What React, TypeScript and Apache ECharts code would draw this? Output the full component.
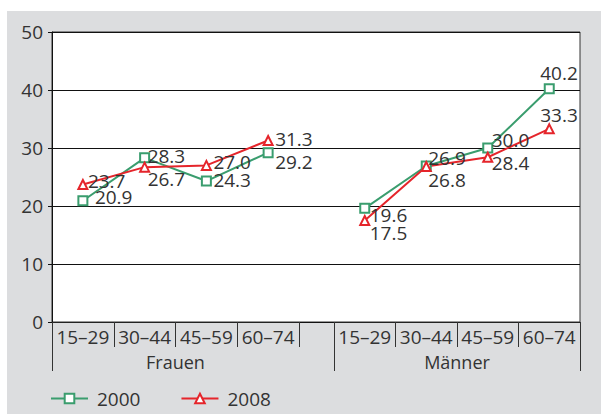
import React, { useEffect, useRef } from 'react';
import * as echarts from 'echarts';

// ---- data ----
const ageGroups = ['15–29', '30–44', '45–59', '60–74'];
const groupNames = ['Frauen', 'Männer'];
const seriesNames = ['2000', '2008'];
const women2000 = [20.9, 28.3, 24.3, 29.2];
const men2000 = [19.6, 26.9, 30.0, 40.2];
const women2008 = [23.7, 26.7, 27.0, 31.3];
const men2008 = [17.5, 26.8, 28.4, 33.3];
const yMin = 0;
const yMax = 50;
const yInterval = 10;

// ---- label placement (styling) ----
const offW2000: [number, number][] = [[12, -4], [3, -2], [7, -1], [7, 9]];
const offM2000: [number, number][] = [[5, 7], [2, -8], [4, -8], [-9, -16]];
const offW2008: [number, number][] = [[5, -4], [3, 12], [7, -3], [7, -1]];
const offM2008: [number, number][] = [[5, 12], [2, 13], [4, 6], [-9, -14]];

const GREEN = '#3a9d6e';
const RED = '#e5252b';
const TEXT = '#333333';
const FONT = '"Open Sans", "Noto Sans", sans-serif';
const NUM_SIZE = 19;

function buildData(values: number[], offs: [number, number][]) {
  return values.map((v, i) => ({ value: v, label: { offset: offs[i] } }));
}

function makeSeries(name: string, values: number[], offs: [number, number][], gridIdx: number, color: string, symbol: string) {
  return {
    name,
    type: 'line',
    xAxisIndex: gridIdx === 1 ? 1 : 3,
    yAxisIndex: gridIdx,
    data: buildData(values, offs),
    symbol,
    symbolSize: 9,
    lineStyle: { color, width: 2 },
    itemStyle: { color, borderWidth: 1.6 },
    label: {
      show: true,
      position: 'inside',
      align: 'left',
      verticalAlign: 'middle',
      fontSize: NUM_SIZE,
      fontFamily: FONT,
      color: TEXT,
      formatter: (p: any) => Number(p.value).toFixed(1),
    },
    emphasis: { disabled: true },
  };
}

export default function App() {
  const ref = useRef<HTMLDivElement>(null);

  useEffect(() => {
    if (!ref.current) return;
    const chart = echarts.init(ref.current, undefined, { renderer: 'svg' });
    const catAxis = (gridIndex: number) => ({
      gridIndex,
      type: 'category',
      data: ageGroups,
      boundaryGap: true,
      position: 'bottom',
      axisLine: { show: true, lineStyle: { color: '#222', width: 1 } },
      axisTick: { show: true, interval: 0, length: 25, lineStyle: { color: '#333', width: 1 } },
      axisLabel: { interval: 0, fontSize: NUM_SIZE, fontFamily: FONT, color: TEXT, margin: 5 },
      splitLine: { show: false },
    });
    const groupAxis = (gridIndex: number, name: string) => ({
      gridIndex,
      type: 'category',
      data: [name],
      position: 'bottom',
      offset: 0,
      axisLine: { show: false },
      axisTick: { show: false },
      axisLabel: { fontSize: 18, fontFamily: FONT, color: TEXT, margin: 31 },
      splitLine: { show: false },
    });
    const hiddenY = (gridIndex: number) => ({
      gridIndex,
      type: 'value',
      min: yMin,
      max: yMax,
      interval: yInterval,
      show: false,
    });

    chart.setOption({
      animation: false,
      textStyle: { fontFamily: FONT },
      grid: [
        { left: 52, top: 32, width: 528, height: 290, show: true, backgroundColor: '#ffffff', borderColor: '#333', borderWidth: 1 },
        { left: 52, top: 32, width: 247, height: 290 },
        { left: 334, top: 32, width: 246, height: 290 },
      ],
      xAxis: [
        {
          gridIndex: 0,
          type: 'value',
          min: 0,
          max: 528,
          axisLine: { show: false },
          axisTick: { show: true, customValues: [0, 282, 528], length: 49, lineStyle: { color: '#333', width: 1 } },
          axisLabel: { show: false },
          splitLine: { show: false },
        },
        catAxis(1),
        groupAxis(1, groupNames[0]),
        catAxis(2),
        groupAxis(2, groupNames[1]),
      ],
      yAxis: [
        {
          gridIndex: 0,
          type: 'value',
          min: yMin,
          max: yMax,
          interval: yInterval,
          axisLine: { show: true, lineStyle: { color: '#111', width: 1 } },
          axisTick: { show: true, length: 4, lineStyle: { color: '#111' } },
          axisLabel: { fontSize: NUM_SIZE, fontFamily: FONT, color: TEXT, margin: 9 },
          splitLine: { show: true, lineStyle: { color: '#111', width: 1 } },
        },
        hiddenY(1),
        hiddenY(2),
      ],
      legend: {
        data: seriesNames,
        left: 50,
        top: 389,
        padding: 0,
        itemWidth: 37,
        itemHeight: 12,
        itemGap: 40,
        textStyle: { fontSize: NUM_SIZE, fontFamily: FONT, color: TEXT, padding: [0, 0, 0, 4] },
      },
      series: [
        makeSeries(seriesNames[0], women2000, offW2000, 1, GREEN, 'emptyRect'),
        makeSeries(seriesNames[0], men2000, offM2000, 2, GREEN, 'emptyRect'),
        makeSeries(seriesNames[1], women2008, offW2008, 1, RED, 'emptyTriangle'),
        makeSeries(seriesNames[1], men2008, offM2008, 2, RED, 'emptyTriangle'),
      ],
    });
    return () => chart.dispose();
  }, []);

  return (
    <div style={{ position: 'absolute', left: 0, top: 0, width: 601, height: 414, background: '#ffffff' }}>
      <div style={{ position: 'absolute', left: 7, top: 11, width: 594, height: 403, background: '#dcdddf' }} />
      <div ref={ref} style={{ position: 'absolute', left: 0, top: 0, width: 601, height: 414 }} />
    </div>
  );
}
